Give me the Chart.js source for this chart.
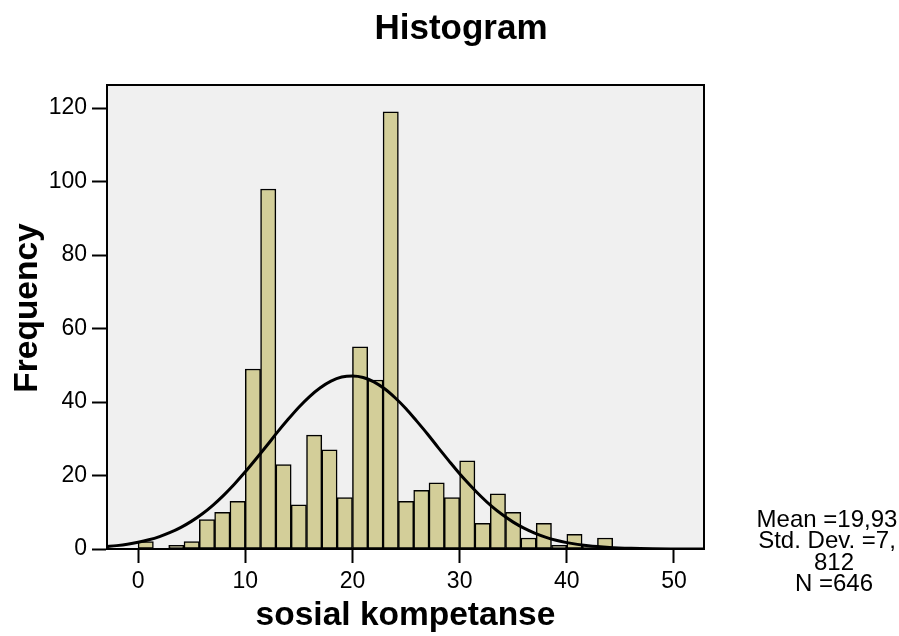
<!DOCTYPE html>
<html>
<head>
<meta charset="utf-8">
<script src="https://cdn.jsdelivr.net/npm/chart.js@4.4.0/dist/chart.umd.min.js"></script>
<style>
  html, body { margin: 0; padding: 0; background: #fff; }
  #wrap { width: 899px; height: 636px; position: relative; }
</style>
</head>
<body>
<div id="wrap"><canvas id="c" width="899" height="636"></canvas></div>
<script>
// ---- data ----
const binStart = 0;
const binWidth = 10 / 7;
const counts = [2, 0, 1, 2, 8, 10, 13, 49, 98, 23, 12, 31, 27, 14, 55, 46, 119, 13, 16, 18, 14, 24, 7, 15, 10, 3, 7, 1, 4, 1, 3];
const curveX = [-3, -2, -1, 0, 1, 2, 3, 4, 5, 6, 7, 8, 9, 10, 11, 12, 13, 14, 15, 16, 17, 18, 19, 20, 21, 22, 23, 24, 25, 26, 27, 28, 29, 30, 31, 32, 33, 34, 35, 36, 37, 38, 39, 40, 42, 44, 46, 48, 50, 53];
const curveY = [0.63, 0.92, 1.30, 1.82, 2.50, 3.38, 4.50, 5.89, 7.59, 9.60, 11.97, 14.68, 17.70, 21.0, 24.5, 28.1, 31.8, 35.3, 38.6, 41.5, 43.9, 45.7, 46.8, 47.1, 46.7, 45.5, 43.6, 41.1, 38.2, 34.8, 31.3, 27.6, 24.0, 20.5, 17.3, 14.3, 11.6, 9.30, 7.32, 5.68, 4.33, 3.25, 2.39, 1.74, 0.87, 0.41, 0.18, 0.07, 0.03, 0.01];
const xTicks = [0, 10, 20, 30, 40, 50];
const yTicks = [0, 20, 40, 60, 80, 100, 120];
const titleText = 'Histogram';
const xTitle = 'sosial kompetanse';
const yTitle = 'Frequency';
const statsLines = ['Mean =19,93', 'Std. Dev. =7,', '812', 'N =646'];

const FONT = "'Liberation Sans', Arial, sans-serif";
Chart.defaults.font.family = FONT;
Chart.defaults.color = '#000';

const barData = counts.map((c, i) => ({ x: binStart + (i + 0.5) * binWidth, y: c }));
const lineData = curveX.map((x, i) => ({ x: x, y: curveY[i] }));

const framePlugin = {
  id: 'frame',
  beforeDraw(chart) {
    const { ctx, chartArea: a } = chart;
    ctx.save();
    ctx.fillStyle = '#f0f0f0';
    ctx.fillRect(a.left, a.top, a.right - a.left, a.bottom - a.top);
    ctx.restore();
  },
  afterDatasetsDraw(chart) {
    const { ctx, chartArea: a } = chart;
    ctx.save();
    ctx.strokeStyle = '#000';
    ctx.lineWidth = 2;
    ctx.strokeRect(a.left, a.top, a.right - a.left, a.bottom - a.top);
    ctx.restore();
  },
  afterDraw(chart) {
    const { ctx } = chart;
    ctx.save();
    ctx.fillStyle = '#000';
    ctx.textAlign = 'center';
    ctx.textBaseline = 'alphabetic';
    // title
    ctx.font = 'bold 35px ' + FONT;
    ctx.fillText(titleText, 461, 39);
    // y axis title
    ctx.save();
    ctx.translate(37, 308);
    ctx.rotate(-Math.PI / 2);
    ctx.font = 'bold 33.5px ' + FONT;
    ctx.fillText(yTitle, 0, 0);
    ctx.restore();
    // stats
    ctx.font = '24px ' + FONT;
    const xs = [827, 827, 834, 834];
    const ys = [527, 548, 570, 591];
    statsLines.forEach((t, i) => ctx.fillText(t, xs[i], ys[i]));
    ctx.restore();
  }
};

new Chart(document.getElementById('c'), {
  type: 'bar',
  data: {
    datasets: [
      {
        type: 'line',
        data: lineData,
        borderColor: '#000',
        borderWidth: 3,
        pointRadius: 0,
        fill: false,
        tension: 0.4,
        cubicInterpolationMode: 'monotone',
        order: 0
      },
      {
        type: 'bar',
        data: barData,
        backgroundColor: 'rgb(211,206,153)',
        borderColor: '#000',
        borderWidth: 1.5,
        borderSkipped: false,
        barPercentage: 1,
        categoryPercentage: 1,
        order: 1
      }
    ]
  },
  options: {
    responsive: false,
    animation: false,
    layout: { padding: { left: 0, right: 195, top: 85, bottom: 0 } },
    plugins: {
      legend: { display: false },
      tooltip: { enabled: false },
      title: { display: false }
    },
    scales: {
      x: {
        type: 'linear',
        min: -2.9,
        max: 52.8,
        offset: false,
        afterFit(s) { s.height = 87; },
        afterBuildTicks(s) { s.ticks = xTicks.map(v => ({ value: v })); },
        ticks: { stepSize: 10, includeBounds: false, padding: 5, font: { size: 23 }, color: '#000', maxRotation: 0 },
        grid: { drawOnChartArea: false, drawTicks: true, tickLength: 14, tickWidth: 2, color: '#000', offset: false },
        border: { display: true, color: '#000', width: 2 },
        title: {
          display: true,
          text: xTitle,
          font: { size: 33.5, weight: 'bold', family: FONT },
          color: '#000',
          padding: { top: 0, bottom: 0 }
        }
      },
      y: {
        type: 'linear',
        min: 0,
        max: 126.3,
        afterFit(s) { s.width = 107; },
        afterBuildTicks(s) { s.ticks = yTicks.map(v => ({ value: v })); },
        ticks: { stepSize: 20, includeBounds: false, padding: 5, font: { size: 23 }, color: '#000' },
        grid: { drawOnChartArea: false, drawTicks: true, tickLength: 15, tickWidth: 2, color: '#000' },
        border: { display: true, color: '#000', width: 2 },
        title: { display: false }
      }
    }
  },
  plugins: [framePlugin]
});
</script>
</body>
</html>
